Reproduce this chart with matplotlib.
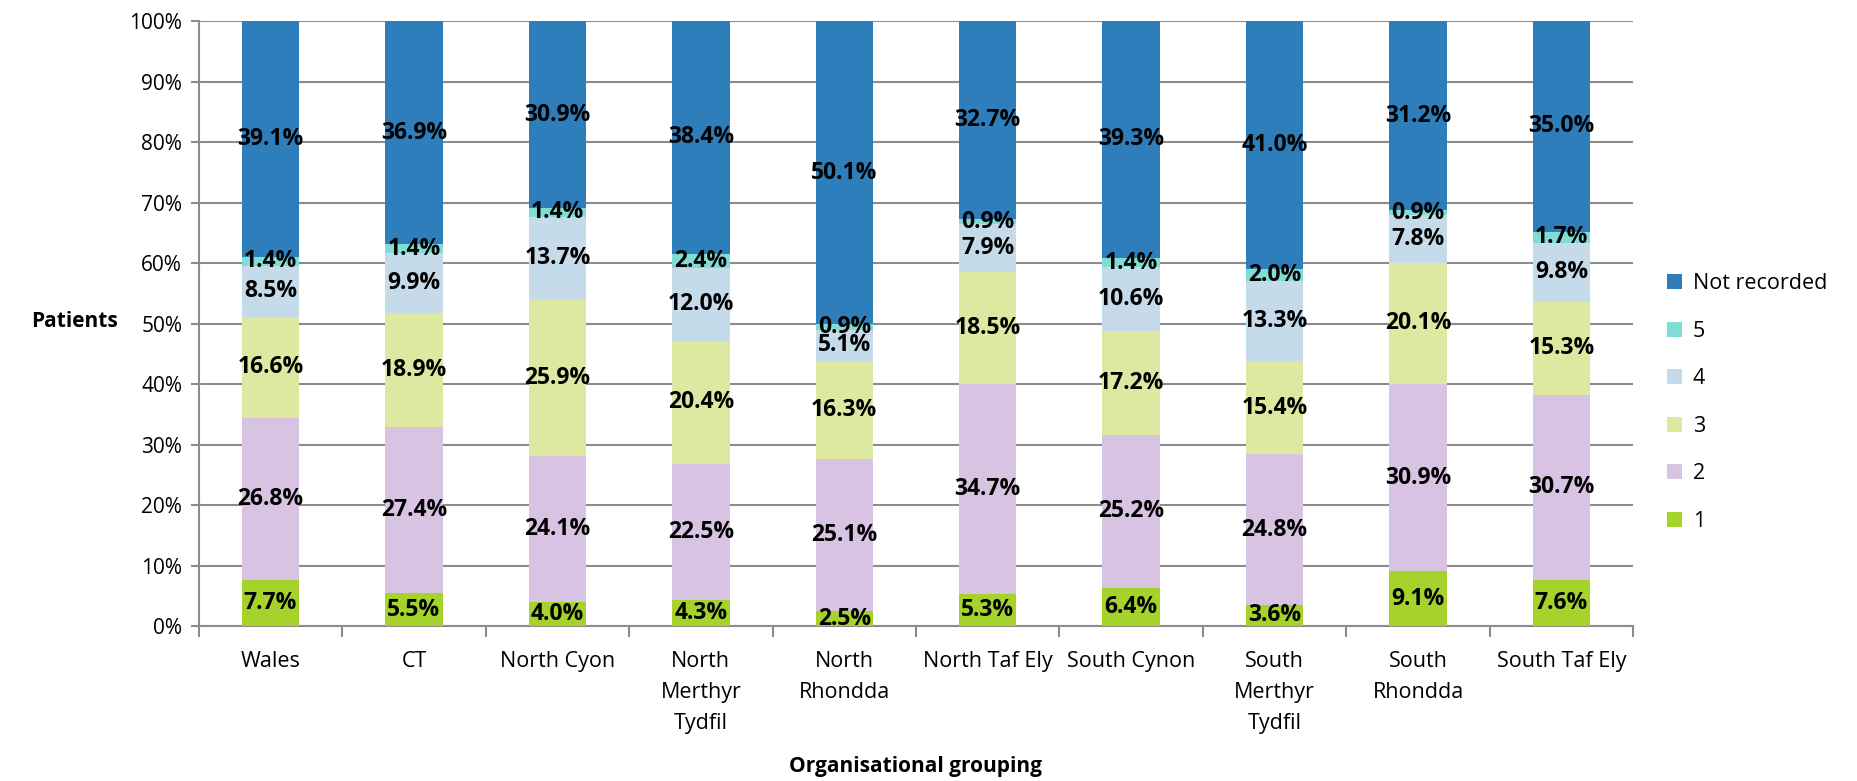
import matplotlib
matplotlib.use('Agg')
import matplotlib.pyplot as plt
import numpy as np

plt.rcParams['font.family'] = ['Open Sans', 'DejaVu Sans']

# categories and shares (%)
groups = ['Wales', 'CT', 'North Cyon', 'North\nMerthyr\nTydfil', 'North\nRhondda',
          'North Taf Ely', 'South Cynon', 'South\nMerthyr\nTydfil', 'South\nRhondda',
          'South Taf Ely']
s1 = [7.7, 5.5, 4.0, 4.3, 2.5, 5.3, 6.4, 3.6, 9.1, 7.6]
s2 = [26.8, 27.4, 24.1, 22.5, 25.1, 34.7, 25.2, 24.8, 30.9, 30.7]
s3 = [16.6, 18.9, 25.9, 20.4, 16.3, 18.5, 17.2, 15.4, 20.1, 15.3]
s4 = [8.5, 9.9, 13.7, 12.0, 5.1, 7.9, 10.6, 13.3, 7.8, 9.8]
s5 = [1.4, 1.4, 1.4, 2.4, 0.9, 0.9, 1.4, 2.0, 0.9, 1.7]
not_rec = [39.1, 36.9, 30.9, 38.4, 50.1, 32.7, 39.3, 41.0, 31.2, 35.0]

series = [('1', s1, '#a5d22b'), ('2', s2, '#d8c4e2'), ('3', s3, '#dde8a0'),
          ('4', s4, '#c5dbe9'), ('5', s5, '#7fddd4'), ('Not recorded', not_rec, '#2e7ebb')]

fig = plt.figure(figsize=(18.58, 7.81), dpi=100)
ax = fig.add_axes([0.107, 0.198, 0.772, 0.775])

x = np.arange(len(groups))
bottom = np.zeros(len(groups))
handles = []
for name, vals, col in series:
    vals = np.array(vals)
    b = ax.bar(x, vals, 0.4, bottom=bottom, color=col, label=name, zorder=3)
    handles.append(b)
    for xi, v, bt in zip(x, vals, bottom):
        ax.text(xi, bt + v / 2, f'{v:.1f}%', ha='center', va='center',
                fontsize=16.5, fontweight='bold', color='black', zorder=4)
    bottom += vals

ax.set_xlim(-0.5, len(groups) - 0.5)
ax.set_ylim(0, 100)
ax.set_yticks(np.arange(0, 101, 10))
ax.set_yticklabels([f'{t}%' for t in range(0, 101, 10)], fontsize=15)
ax.yaxis.grid(True, color='#8c8c8c', linewidth=1.5, zorder=0)
ax.set_xticks(x)
ax.set_xticklabels(groups, fontsize=15.5, linespacing=1.6, va='top')
ax.set_xticks(np.arange(-0.5, len(groups)), minor=True)
ax.tick_params(axis='x', which='major', length=0, pad=18)
ax.tick_params(axis='x', which='minor', length=8, color='#8c8c8c', width=1.5)
ax.tick_params(axis='y', length=6, color='#8c8c8c', width=1.5, pad=6)
for s in ['top', 'right']:
    ax.spines[s].set_visible(False)
for s in ['left', 'bottom']:
    ax.spines[s].set_color('#8c8c8c')
    ax.spines[s].set_linewidth(1.5)

fig.text(0.040, 0.588, 'Patients', fontsize=15, fontweight='bold', ha='center', va='center')
fig.text(0.493, 0.018, 'Organisational grouping', fontsize=15, fontweight='bold',
         ha='center', va='center')

leg = ax.legend(handles[::-1], [s[0] for s in series][::-1], loc='center left',
                bbox_to_anchor=(1.01, 0.37), frameon=False, fontsize=15.5,
                handlelength=0.7, handleheight=0.7, labelspacing=1.23, handletextpad=0.5)

fig.savefig('out.png', dpi=100)
